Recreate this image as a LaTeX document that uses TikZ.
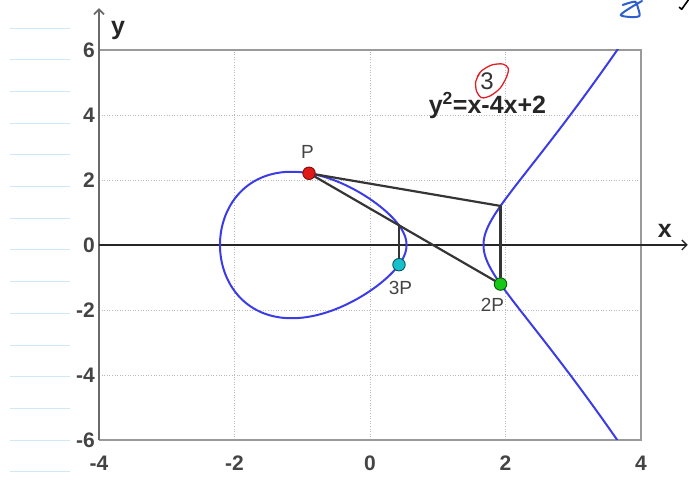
\documentclass[tikz,border=0pt]{standalone}
\usepackage{fontspec}
\setmainfont{Liberation Sans}
\usetikzlibrary{arrows.meta}

\begin{document}
\begin{tikzpicture}[x=1pt, y=1pt,
  declare function={
    ecf(\x)=\x*\x*\x-4*\x+2;
    ovalx(\x)=-0.8376-1.3767*cos(\x);
    branchx(\x)=1.6751+2.0*\x*\x;
  }]

\definecolor{notebook}{HTML}{CDE8FA}
\definecolor{gridgray}{HTML}{B9B9B9}
\definecolor{framegray}{HTML}{9A9A9A}
\definecolor{axisgray}{HTML}{6A6A6A}
\definecolor{ticktext}{HTML}{444444}
\definecolor{ecblue}{HTML}{3C3CE6}
\definecolor{chordgray}{HTML}{353535}
\definecolor{ptred}{HTML}{E01818}
\definecolor{ptgreen}{HTML}{18C818}
\definecolor{ptcyan}{HTML}{18C0CC}
\definecolor{inkred}{HTML}{E21E28}
\definecolor{inkblue}{HTML}{2D5FCD}

\tikzset{
  ruling/.style={draw=notebook, line width=0.9pt},
  gridline/.style={draw=gridgray, line width=0.8pt, dash pattern=on 1pt off 1.6pt},
  frame/.style={draw=framegray, line width=1.8pt},
  axisline/.style={line width=1.4pt, -{Straight Barb[length=5pt,width=10pt]}},
  ticklabel/.style={text=ticktext, inner sep=0pt,
    font=\fontsize{21}{24}\selectfont\bfseries},
  axislabel/.style={text=black!85, inner sep=0pt,
    font=\fontsize{25}{28}\selectfont\bfseries},
  eqlabel/.style={text=black!85, inner sep=0pt,
    font=\fontsize{25}{28}\selectfont\bfseries},
  eccurve/.style={draw=ecblue, line width=2pt, line join=round},
  chord/.style={draw=chordgray, line width=2.2pt, line cap=round},
  ecpoint/.style={circle, minimum size=12.5pt, inner sep=0pt, line width=0.9pt},
  ptlabel/.style={text=ticktext, inner sep=0pt,
    font=\fontsize{19}{22}\selectfont},
  inkline/.style={line width=1.3pt, line cap=round, line join=round}
}

\useasboundingbox (0,0) rectangle (689,501);

% ruled notebook lines in the left margin
\foreach \k in {0,...,14}
  \draw[ruling] (10,{473-31.7*\k}) -- (70,{473-31.7*\k});

% the plot itself, in data units
\begin{scope}[shift={(370pt,256pt)}, x=67.75pt, y=32.5pt]

% dotted grid
\foreach \gx in {-2,0,2}
  \draw[gridline] (\gx,-6) -- (\gx,6);
\foreach \gy in {-4,-2,2,4}
  \draw[gridline] (-4,\gy) -- (4,\gy);

% frame; its left side is the y axis
\draw[frame] (-4,6) -- (4,6) -- (4,-6) -- (-4,-6);

\coordinate (yfoot) at (-4,-6);
\coordinate (ytip)  at (-4,7.29);
\coordinate (xfoot) at (-4,0);
\coordinate (xtip)  at (4.69,0);
\draw[axisline, draw=axisgray, line width=1.8pt] (yfoot) -- (ytip);
\draw[axisline, draw=black!85] (xfoot) -- (xtip);

\node[axislabel] (ylabel) at (-3.72,6.585) {y};
\node[axislabel] (xlabel) at (4.35,0.43) {x};

% tick labels
\foreach \gy [count=\i] in {-6,-4,...,6}
  \node[ticklabel, anchor=east] (ytick\i) at (-4.06,\gy) {\gy};
\foreach \gx [count=\i] in {-4,-2,...,4}
  \node[ticklabel] (xtick\i) at (\gx,-6.71) {\gx};

% the curve: the closed oval and the open right branch
\begin{scope}
  \clip (-4,-6) rectangle (4,6);
  \draw[eccurve]
    plot[domain=0:180, samples=121] ({ovalx(\x)},{sqrt(max(0,ecf(ovalx(\x))))})
    -- plot[domain=180:360, samples=121] ({ovalx(\x)},{-sqrt(max(0,ecf(ovalx(\x))))})
    -- cycle;
  \draw[eccurve]
    plot[domain=1:0, samples=101] ({branchx(\x)},{-sqrt(max(0,ecf(branchx(\x))))})
    -- plot[domain=0:1, samples=101] ({branchx(\x)},{sqrt(max(0,ecf(branchx(\x))))});
\end{scope}

\node[eqlabel, anchor=base] (curveeq) at (1.734,4.06) {y\textsuperscript{2}=x-4x+2};

% P, 2P, 3P and the mirrored points they come from
\coordinate (negtwoP)   at (1.9265,1.2017);
\coordinate (negthreeP) at (0.4279,0.6056);
\node[ecpoint, fill=ptred,   draw=ptred!55!black]   (P)      at (-0.9,2.2070) {};
\node[ecpoint, fill=ptgreen, draw=ptgreen!45!black] (twoP)   at (1.9265,-1.2017) {};
\node[ecpoint, fill=ptcyan,  draw=ptcyan!45!black]  (threeP) at (0.4279,-0.6056) {};

\draw[chord] (P) -- (negtwoP);
\draw[chord] (negtwoP) -- (twoP);
\draw[chord] (P) -- (twoP);
\draw[chord] (negthreeP) -- (threeP);

\node[ptlabel] (Plabel)      at ([xshift=-1.5pt,yshift=21pt]P.center) {P};
\node[ptlabel] (twoPlabel)   at ([xshift=-8pt,yshift=-20.5pt]twoP.center) {2P};
\node[ptlabel] (threePlabel) at ([xshift=1.5pt,yshift=-23pt]threeP.center) {3P};

\end{scope}

% handwritten correction: the missing cube, circled
\node[text=black!80, inner sep=0pt, font=\fontsize{24}{26}\selectfont] (inkthree)
  at (487,419.5) {3};
\draw[inkline, draw=inkred] plot[smooth] coordinates {
  (480,428.3) (475.7,419.3) (476.7,409.3) (481.7,403.3) (490,405) (500,412.7)
  (506.7,424.3) (508.3,432.7) (502.7,437) (491.7,436) (481.7,430.3) (477.3,424.3)};

% pen marks cut off at the top right
\draw[inkline, draw=inkblue, line width=2pt] plot[smooth] coordinates {
  (622.7,496) (635,499.3) (638,493) (639.3,485) (630,484) (620.7,486) (630,493) (642,500)};
\draw[inkline, draw=black, line width=1.6pt] (679.3,493.7) -- (681.7,491.7) -- (688.3,501);

\end{tikzpicture}
\end{document}
